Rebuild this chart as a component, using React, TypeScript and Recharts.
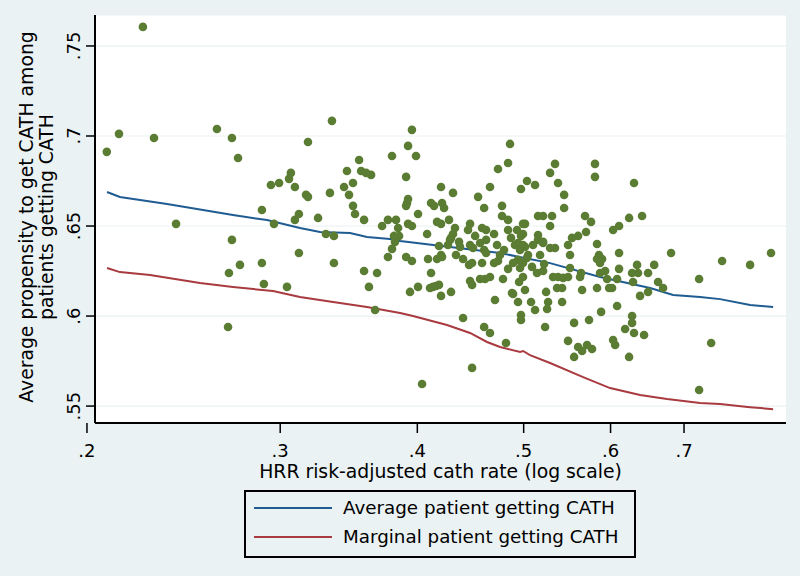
import React from 'react';
import { ComposedChart, Scatter, Line, XAxis, YAxis, CartesianGrid, Legend, Label } from 'recharts';

const FONT = '"DejaVu Sans", Verdana, sans-serif';

// Scatter: HRR risk-adjusted cath rate vs average propensity
const hrrRate = [
  0.2085, 0.2139, 0.2249, 0.2302, 0.2411, 0.2627, 0.2711, 0.2746, 0.2711, 0.2694,
  0.2689, 0.2757, 0.2887, 0.2887, 0.2899, 0.2942, 0.2993, 0.2961, 0.3043, 0.3056,
  0.3068, 0.3094, 0.3094, 0.3120, 0.3120, 0.3167, 0.3180, 0.3180, 0.3248, 0.3302,
  0.3330, 0.3344, 0.3358, 0.3358, 0.3430, 0.3451, 0.3466, 0.3495, 0.3495, 0.3510,
  0.3540, 0.3555, 0.3577, 0.3592, 0.3630, 0.3577, 0.3614, 0.3676, 0.3661, 0.3715,
  0.3761, 0.3825, 0.3793, 0.3761, 0.3793, 0.3809, 0.3842, 0.3850, 0.3817, 0.3955,
  0.3923, 0.3989, 0.3907, 0.3923, 0.3907, 0.4006, 0.3923, 0.3955, 0.3907, 0.3955,
  0.3939, 0.4006, 0.3915, 0.4204, 0.4311, 0.4117, 0.4143, 0.4213, 0.4231, 0.4169,
  0.4204, 0.4275, 0.4329, 0.4311, 0.4293, 0.4083, 0.4186, 0.4266, 0.4366, 0.4091,
  0.4169, 0.4204, 0.4213, 0.4338, 0.4403, 0.4117, 0.4108, 0.4134, 0.4160, 0.4186,
  0.4204, 0.4293, 0.4040, 0.4403, 0.4284, 0.4375, 0.4468, 0.4449, 0.4544, 0.4602,
  0.4659, 0.4582, 0.4621, 0.4516, 0.4621, 0.4699, 0.4738, 0.4468, 0.4496, 0.4563,
  0.4602, 0.4621, 0.4728, 0.4459, 0.4487, 0.4582, 0.4699, 0.4468, 0.4487, 0.4563,
  0.4611, 0.4659, 0.4708, 0.4602, 0.4659, 0.4487, 0.4758, 0.4738, 0.4839, 0.4859,
  0.4972, 0.5035, 0.4778, 0.4778, 0.4839, 0.4839, 0.4869, 0.4931, 0.4993, 0.5014,
  0.4972, 0.4993, 0.4941, 0.4993, 0.4798, 0.4910, 0.4962, 0.4941, 0.4890, 0.4993,
  0.5035, 0.4962, 0.4788, 0.4818, 0.4879, 0.4941, 0.4972, 0.4972, 0.5014, 0.4952,
  0.4993, 0.4839, 0.5078, 0.5121, 0.5121, 0.5153, 0.5208, 0.5099, 0.5153, 0.5153,
  0.5208, 0.5014, 0.5046, 0.5175, 0.5142, 0.5208, 0.5219, 0.4890, 0.5088, 0.5340,
  0.5285, 0.5374, 0.5443, 0.5443, 0.5307, 0.5285, 0.5488, 0.5534, 0.5605, 0.5285,
  0.5340, 0.5208, 0.5511, 0.5318, 0.5374, 0.5431, 0.5488, 0.5363, 0.5420, 0.5241,
  0.5511, 0.5263, 0.5252, 0.5420, 0.5230, 0.5558, 0.5488, 0.5605, 0.5652, 0.5558,
  0.5807, 0.5807, 0.5687, 0.5759, 0.5699, 0.5832, 0.5856, 0.5832, 0.5894, 0.5869,
  0.5640, 0.5628, 0.5652, 0.5832, 0.5869, 0.5932, 0.5957, 0.5982, 0.6019, 0.6108,
  0.6108, 0.6083, 0.6032, 0.6108, 0.5735, 0.5882, 0.6083, 0.5711, 0.5771, 0.6032,
  0.6058, 0.6238, 0.6410, 0.6303, 0.6277, 0.6343, 0.6356, 0.6290, 0.6491, 0.6575,
  0.6629, 0.6699, 0.6491, 0.6383, 0.6277, 0.6277, 0.6186, 0.6303, 0.6437, 0.6238,
  0.6812, 0.7225, 0.7582, 0.8041, 0.8402, 0.7410, 0.7225,
];
const propensity = [
  0.6912, 0.7012, 0.7606, 0.6989, 0.6512, 0.7039, 0.6989, 0.6878, 0.6423, 0.6239,
  0.5939, 0.6284, 0.6589, 0.6295, 0.6178, 0.6728, 0.6739, 0.6512, 0.6162, 0.6762,
  0.6795, 0.6717, 0.6534, 0.6567, 0.6350, 0.6673, 0.6662, 0.6967, 0.6545, 0.6456,
  0.6684, 0.7084, 0.6445, 0.6295, 0.6717, 0.6806, 0.6673, 0.6739, 0.6612, 0.6567,
  0.6867, 0.6806, 0.6534, 0.6795, 0.6784, 0.6250, 0.6162, 0.6239, 0.6034, 0.6500,
  0.6534, 0.6534, 0.6889, 0.6328, 0.6373, 0.6445, 0.6489, 0.6445, 0.6412, 0.7034,
  0.6945, 0.6889, 0.6773, 0.6650, 0.6612, 0.6567, 0.6512, 0.6500, 0.6328, 0.6306,
  0.6134, 0.6162, 0.6628, 0.6717, 0.6684, 0.6628, 0.6612, 0.6628, 0.6600, 0.6523,
  0.6512, 0.6534, 0.6489, 0.6456, 0.6434, 0.6456, 0.6389, 0.6395, 0.6412, 0.6317,
  0.6317, 0.6339, 0.6328, 0.6339, 0.6317, 0.6239, 0.6156, 0.6162, 0.6167, 0.6173,
  0.6112, 0.6134, 0.5623, 0.5989, 0.6423, 0.6384, 0.6512, 0.6478, 0.6662, 0.6600,
  0.6717, 0.6489, 0.6478, 0.6445, 0.6423, 0.6456, 0.6817, 0.6395, 0.6378, 0.6406,
  0.6367, 0.6350, 0.6395, 0.6284, 0.6295, 0.6295, 0.6295, 0.6195, 0.6173, 0.6206,
  0.6206, 0.6217, 0.6089, 0.5939, 0.5906, 0.5712, 0.6339, 0.6306, 0.6850, 0.6956,
  0.6706, 0.6750, 0.6612, 0.6556, 0.6534, 0.6478, 0.6434, 0.6478, 0.6512, 0.6512,
  0.6445, 0.6456, 0.6406, 0.6395, 0.6367, 0.6395, 0.6367, 0.6312, 0.6295, 0.6295,
  0.6323, 0.6267, 0.6206, 0.5850, 0.6128, 0.6078, 0.6006, 0.5978, 0.6145, 0.6189,
  0.6217, 0.6262, 0.6078, 0.6034, 0.6728, 0.6556, 0.6556, 0.6395, 0.6450, 0.6423,
  0.6406, 0.6384, 0.6339, 0.6339, 0.6239, 0.6250, 0.6289, 0.6123, 0.6273, 0.6845,
  0.6795, 0.6739, 0.6673, 0.6600, 0.6556, 0.6500, 0.6395, 0.6434, 0.6445, 0.6378,
  0.6378, 0.6412, 0.6339, 0.6217, 0.6217, 0.6212, 0.6217, 0.6156, 0.6156, 0.6134,
  0.6267, 0.6078, 0.6039, 0.6078, 0.5939, 0.5962, 0.5862, 0.5828, 0.5806, 0.5773,
  0.6845, 0.6773, 0.6556, 0.6523, 0.6467, 0.6400, 0.6339, 0.6317, 0.6317, 0.6295,
  0.6239, 0.6217, 0.6145, 0.6156, 0.6239, 0.6250, 0.6206, 0.6156, 0.6156, 0.6350,
  0.6262, 0.6206, 0.6478, 0.6500, 0.5978, 0.6023, 0.6056, 0.5839, 0.5817, 0.5867,
  0.5839, 0.6545, 0.6556, 0.6739, 0.6239, 0.6284, 0.6239, 0.6189, 0.6239, 0.6284,
  0.6189, 0.6156, 0.6134, 0.6112, 0.6000, 0.5962, 0.5928, 0.5906, 0.5895, 0.5773,
  0.6350, 0.6206, 0.6306, 0.6284, 0.6350, 0.5850, 0.5589,
];

// Average patient getting CATH (fitted line)
const avgRate = [0.2086, 0.2143, 0.2366, 0.2717, 0.2918, 0.3127, 0.3261, 0.3473, 0.3599, 0.3777, 0.3858, 0.4284, 0.4758, 0.5285, 0.5869, 0.6519, 0.6841, 0.7240, 0.7550, 0.8041, 0.8439];
const avgPropensity = [0.6689, 0.6661, 0.6622, 0.6561, 0.6533, 0.6489, 0.6467, 0.6461, 0.6439, 0.6428, 0.6417, 0.6383, 0.6350, 0.6294, 0.6217, 0.6156, 0.6117, 0.6106, 0.6094, 0.6061, 0.6050];

// Marginal patient getting CATH (fitted line)
const margRate = [0.2086, 0.2143, 0.2283, 0.2535, 0.2717, 0.2955, 0.3127, 0.3352, 0.3599, 0.3858, 0.3964, 0.4257, 0.4468, 0.4630, 0.4758, 0.4962, 0.4994, 0.5067, 0.5285, 0.5664, 0.5994, 0.6383, 0.6755, 0.7240, 0.7550, 0.8041, 0.8439];
const margPropensity = [0.6267, 0.6244, 0.6228, 0.6183, 0.6161, 0.6139, 0.6106, 0.6078, 0.6050, 0.6017, 0.6000, 0.5950, 0.5906, 0.5856, 0.5828, 0.5800, 0.5806, 0.5783, 0.5739, 0.5661, 0.5600, 0.5561, 0.5539, 0.5517, 0.5511, 0.5494, 0.5483];

const xTicks = [0.2, 0.3, 0.4, 0.5, 0.6, 0.7];
const yTicks = [0.55, 0.6, 0.65, 0.7, 0.75];
const xDomain = [0.2034, 0.867];
const yDomain = [0.5406, 0.7672];
const seriesNames = ['Average patient getting CATH', 'Marginal patient getting CATH'];
const xTitle = 'HRR risk-adjusted cath rate (log scale)';
const yTitle = ['Average propensity to get CATH among', 'patients getting CATH'];

const BLUE = '#1f5c92';
const RED = '#a83a40';
const GREEN = '#5b7d33';
const BG = '#eaf2f3';

const fmt = (v: number) => String(v).replace(/^0/, '');

const scatterData = hrrRate.map((x, i) => ({ x, y: propensity[i] }));
const avgData = avgRate.map((x, i) => ({ x, y: avgPropensity[i] }));
const margData = margRate.map((x, i) => ({ x, y: margPropensity[i] }));

const YTick = (props: any) => {
  const { x, y, payload } = props;
  return (
    <text transform={`translate(${x - 4},${y}) rotate(-90)`} textAnchor="middle" fontSize={18} fontFamily={FONT} fill="#000">
      {fmt(payload.value)}
    </text>
  );
};

const XTick = (props: any) => {
  const { x, y, payload } = props;
  return (
    <text x={x} y={y + 22} textAnchor="middle" fontSize={18} fontFamily={FONT} fill="#000">
      {fmt(payload.value)}
    </text>
  );
};

const YTitle = (props: any) => {
  const vb = props.viewBox;
  const cy = vb.y + vb.height / 2 - 2;
  return (
    <g>
      {yTitle.map((t, i) => (
        <text key={i} transform={`translate(${vb.x + 33 + i * 20},${cy}) rotate(-90)`} textAnchor="middle" fontSize={18.8} fontFamily={FONT} fill="#000">
          {t}
        </text>
      ))}
    </g>
  );
};

const XTitle = (props: any) => {
  const vb = props.viewBox;
  return (
    <text x={vb.x + vb.width / 2} y={vb.y + 55} textAnchor="middle" fontSize={18.8} fontFamily={FONT} fill="#000">
      {xTitle}
    </text>
  );
};

const LegendBox = (props: any) => {
  const payload = (props.payload || []).filter((p: any) => seriesNames.includes(p.value));
  payload.sort((a: any, b: any) => seriesNames.indexOf(a.value) - seriesNames.indexOf(b.value));
  return (
    <svg width={392} height={68} style={{ display: 'block' }}>
      <rect x={1} y={1} width={390} height={66} fill="none" stroke="#000" strokeWidth={2} />
      {payload.map((p: any, i: number) => (
        <g key={p.value}>
          <line x1={10} x2={88} y1={18 + 29 * i} y2={18 + 29 * i} stroke={p.color} strokeWidth={2} />
          <text x={99} y={24 + 29 * i} fontSize={18.3} fontFamily={FONT} fill="#000">{p.value}</text>
        </g>
      ))}
    </svg>
  );
};

export default function App() {
  return (
    <div style={{ position: 'absolute', left: 0, top: 0, width: 800, height: 576, background: BG }}>
      <ComposedChart width={800} height={576} margin={{ top: 15, right: 14, bottom: 93, left: 0 }}>
        <CartesianGrid vertical={false} stroke={BG} strokeWidth={1.2} fill="#ffffff" fillOpacity={1} />
        <XAxis
          type="number"
          dataKey="x"
          scale="log"
          domain={xDomain}
          allowDataOverflow
          ticks={xTicks}
          interval={0}
          height={60}
          tickSize={10}
          tick={<XTick />}
          tickLine={{ stroke: '#000', strokeWidth: 1.5 }}
          axisLine={{ stroke: '#000', strokeWidth: 2 }}
        >
          <Label content={<XTitle />} />
        </XAxis>
        <YAxis
          type="number"
          dataKey="y"
          domain={yDomain}
          allowDataOverflow
          ticks={yTicks}
          interval={0}
          width={95}
          tickSize={9}
          tick={<YTick />}
          tickLine={{ stroke: '#000', strokeWidth: 1.5 }}
          axisLine={{ stroke: '#000', strokeWidth: 2 }}
        >
          <Label content={<YTitle />} />
        </YAxis>
        <Scatter
          data={scatterData}
          fill={GREEN}
          legendType="none"
          isAnimationActive={false}
          shape={(p: any) => <circle cx={p.cx} cy={p.cy} r={4.3} fill={GREEN} />}
        />
        <Line data={avgData} dataKey="y" name={seriesNames[0]} type="linear" stroke={BLUE} strokeWidth={2} dot={false} activeDot={false} isAnimationActive={false} />
        <Line data={margData} dataKey="y" name={seriesNames[1]} type="linear" stroke={RED} strokeWidth={2} dot={false} activeDot={false} isAnimationActive={false} />
        <Legend
          layout="horizontal"
          verticalAlign="middle"
          align="center"
          content={<LegendBox />}
          wrapperStyle={{ position: 'absolute', left: 244, top: 490, width: 392, height: 68 }}
        />
      </ComposedChart>
    </div>
  );
}
